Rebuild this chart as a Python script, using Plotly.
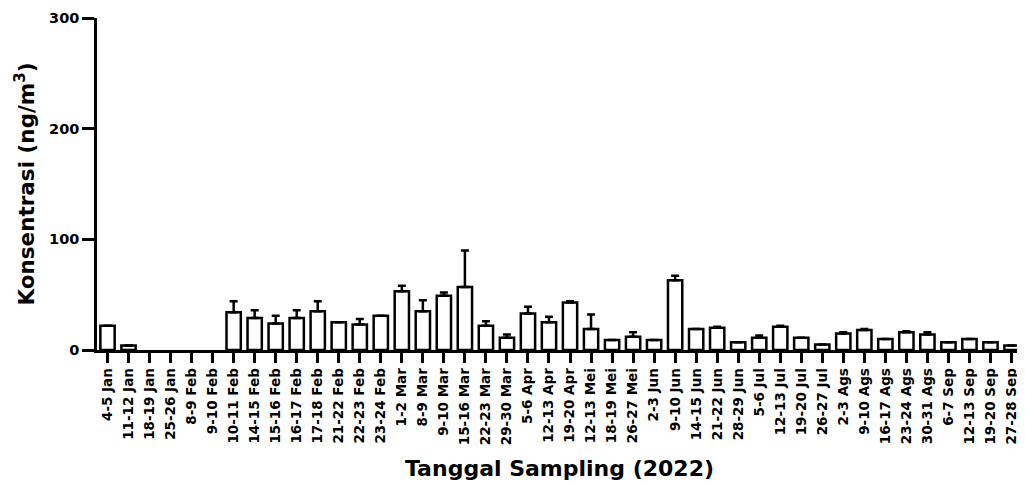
import plotly.graph_objects as go

categories = ["4-5 Jan", "11-12 Jan", "18-19 Jan", "25-26 Jan", "8-9 Feb", "9-10 Feb",
              "10-11 Feb", "14-15 Feb", "15-16 Feb", "16-17 Feb", "17-18 Feb", "21-22 Feb",
              "22-23 Feb", "23-24 Feb", "1-2 Mar", "8-9 Mar", "9-10 Mar", "15-16 Mar",
              "22-23 Mar", "29-30 Mar", "5-6 Apr", "12-13 Apr", "19-20 Apr", "12-13 Mei",
              "18-19 Mei", "26-27 Mei", "2-3 Jun", "9-10 Jun", "14-15 Jun", "21-22 Jun",
              "28-29 Jun", "5-6 Jul", "12-13 Jul", "19-20 Jul", "26-27 Jul", "2-3 Ags",
              "9-10 Ags", "16-17 Ags", "23-24 Ags", "30-31 Ags", "6-7 Sep", "12-13 Sep",
              "19-20 Sep", "27-28 Sep"]

values = [22, 4, 0, 0, 0, 0,
          34, 29, 24, 29, 35, 25,
          23, 31, 53, 35, 49, 57,
          22, 11, 33, 25, 43, 19,
          9, 12, 9, 63, 19, 20,
          7, 11, 21, 11, 5, 15,
          18, 10, 16, 14, 7, 10,
          7, 4]

errors = [0, 0, 0, 0, 0, 0,
          10, 7, 7, 7, 9, 0,
          5, 0, 5, 10, 3, 33,
          4, 3, 6, 5, 1, 13,
          0, 4, 0, 4, 0, 1,
          0, 2, 1, 0, 0, 1,
          1, 0, 1, 2, 0, 0,
          0, 0]

y_ticks = [0, 100, 200, 300]

# zero-valued samples show no bar at all
y_plot = [v if v > 0 else None for v in values]

FONT = "DejaVu Sans, Arial, sans-serif"

fig = go.Figure()
fig.add_trace(go.Bar(
    x=categories, y=y_plot,
    marker=dict(color="white", line=dict(color="black", width=2.5)),
    error_y=dict(type="data", array=errors, arrayminus=[0] * len(errors),
                 symmetric=False, color="black", thickness=2.5, width=4),
    width=0.68,
))

# page body adds an 8px margin, so the figure is sized to the remaining window
fig.update_layout(
    width=1017, height=477,
    margin=dict(l=89, r=3, t=10, b=135),
    plot_bgcolor="white", paper_bgcolor="white",
    showlegend=False,
    font=dict(family=FONT, color="black"),
)
fig.update_xaxes(
    type="category", range=[-0.5, len(categories) - 0.5],
    automargin=False,
    showline=True, linecolor="black", linewidth=2.5,
    ticks="outside", ticklen=10, tickwidth=2.5, tickcolor="black",
    tickangle=-90, tickfont=dict(family=FONT, size=13.5, weight="bold"),
    showgrid=False,
    title=dict(text="Tanggal Sampling (2022)", font=dict(family=FONT, size=22, weight="bold"), standoff=17),
)
fig.update_yaxes(
    range=[0, 300], tickvals=y_ticks,
    automargin=False,
    showline=True, linecolor="black", linewidth=2.5,
    ticks="outside", ticklen=12, tickwidth=2.5, tickcolor="black",
    tickfont=dict(family=FONT, size=14.5, weight="bold"),
    showgrid=False, zeroline=False,
    title=dict(text="Konsentrasi (ng/m<sup>3</sup>)", font=dict(family=FONT, size=21.5, weight="bold"), standoff=9),
)

fig.write_html("out.html")
